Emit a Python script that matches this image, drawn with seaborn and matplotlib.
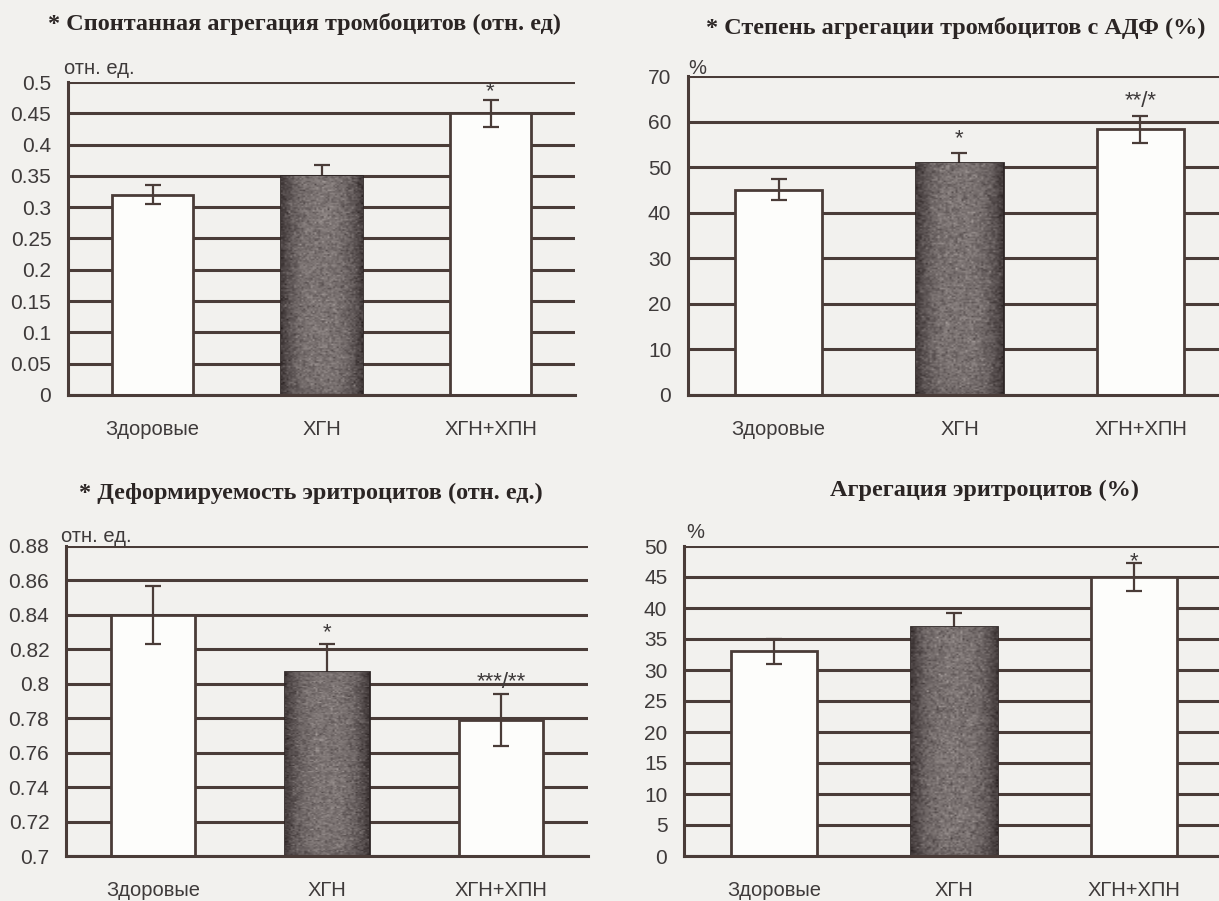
import numpy as np
import matplotlib
matplotlib.use("Agg")
import matplotlib.pyplot as plt
from matplotlib.colors import LinearSegmentedColormap
import pandas as pd
import seaborn as sns

# ---- data ---------------------------------------------------------------
groups = ["Здоровые", "ХГН", "ХГН+ХПН"]

spont_vals = [0.32, 0.35, 0.45]
spont_err = [0.015, 0.017, 0.022]
spont_marks = ["", "", "*"]
spont_ticks = [0, 0.05, 0.1, 0.15, 0.2, 0.25, 0.3, 0.35, 0.4, 0.45, 0.5]

adp_vals = [45, 51, 58.3]
adp_err = [2.3, 2.2, 3.0]
adp_marks = ["", "*", "**/*"]
adp_ticks = [0, 10, 20, 30, 40, 50, 60, 70]

deform_vals = [0.84, 0.807, 0.779]
deform_err = [0.017, 0.016, 0.015]
deform_marks = ["", "*", "***/**"]
deform_ticks = [0.7, 0.72, 0.74, 0.76, 0.78, 0.8, 0.82, 0.84, 0.86, 0.88]

eagg_vals = [33, 37, 45]
eagg_err = [2.0, 2.2, 2.3]
eagg_marks = ["", "", "*"]
eagg_ticks = [0, 5, 10, 15, 20, 25, 30, 35, 40, 45, 50]

titles = [
    "* Спонтанная агрегация тромбоцитов (отн. ед)",
    "* Степень агрегации тромбоцитов с АДФ (%)",
    "* Деформируемость эритроцитов (отн. ед.)",
    "Агрегация эритроцитов (%)",
]
units = ["отн. ед.", "%", "отн. ед.", "%"]

# ---- style --------------------------------------------------------------
sns.set_style("white")
plt.rcParams["font.family"] = ["Liberation Sans", "DejaVu Sans"]

W, H = 1219, 901
paper = "#f2f1ee"
ink = "#4a3c38"
label_col = "#3e3a3a"
dark_group = "ХГН"
bar_colors = {"Здоровые": "#fdfdfb", "ХГН": "#6d6565", "ХГН+ХПН": "#fdfdfb"}
grain_cmap = LinearSegmentedColormap.from_list("grain", ["#241c1c", "#5a5252", "#9c9492", "#d4ccc8"])
rng = np.random.default_rng(11)

fig = plt.figure(figsize=(W / 100, H / 100), dpi=100, facecolor=paper)


def px_axes(left, top, right, bottom):
    return fig.add_axes([left / W, 1 - bottom / H, (right - left) / W, (bottom - top) / H])


def grain(ax, patch):
    """Fill the visible part of a bar with a grainy dark texture, darker toward its edges."""
    x0, w = patch.get_x(), patch.get_width()
    lo = max(patch.get_y(), ax.get_ylim()[0])
    hi = patch.get_y() + patch.get_height()
    nx, ny = 44, 150
    xs = np.linspace(-1, 1, nx)
    ys = np.linspace(0, 1, ny)
    across = 0.50 - 0.30 * np.abs(xs) ** 3
    along = 1 - 0.15 * np.exp(-ys * 25)
    img = across[None, :] * along[:, None] + rng.normal(0, 0.07, (ny, nx))
    im = ax.imshow(np.clip(img, 0, 1), extent=[x0, x0 + w, lo, hi], origin="lower",
                   cmap=grain_cmap, vmin=0, vmax=1, aspect="auto",
                   interpolation="bilinear", zorder=patch.get_zorder() + 0.01)
    im.set_clip_path(patch)


def panel(ax, vals, errs, marks, ticks, mark_offset):
    df = pd.DataFrame({"group": groups, "value": vals})
    sns.barplot(data=df, x="group", y="value", hue="group", palette=bar_colors,
                saturation=1, width=0.48, edgecolor=ink, linewidth=2.0,
                legend=False, ax=ax)
    ax.set_xlim(-0.5, 2.5)
    ax.set_ylim(ticks[0], ticks[-1])
    for patch, g in zip(ax.patches, groups):
        patch.set_zorder(2)
        if g == dark_group:
            patch.set_edgecolor("#2e2626")
            grain(ax, patch)
    for i, (g, v, e) in enumerate(zip(groups, vals, errs)):
        # on the dark bar the whisker sits underneath, so only its upper part shows
        z = 1.9 if g == dark_group else 4
        ax.errorbar([i], [v], yerr=[e], fmt="none", ecolor=ink,
                    elinewidth=1.6, capsize=6, capthick=1.6, zorder=z)
    for i, (v, e, m) in enumerate(zip(vals, errs, marks)):
        if m:
            ax.annotate(m, (i, v + e), xytext=(0, mark_offset), textcoords="offset points",
                        ha="center", va="bottom", fontsize=16, color=label_col, zorder=5)

    ax.set_facecolor(paper)
    ax.set_xlim(-0.5, 2.5)
    ax.set_ylim(ticks[0], ticks[-1])
    ax.set_yticks(ticks)
    ax.set_yticklabels([f"{t:g}" for t in ticks])
    ax.set_xticks([-0.5, 0.5, 1.5, 2.5])
    ax.set_xticklabels([])
    ax.set_xticks([0, 1, 2], minor=True)
    ax.set_xticklabels(groups, minor=True)
    ax.tick_params(axis="x", which="major", direction="out", length=6, width=2, color=ink)
    ax.tick_params(axis="x", which="minor", length=0, pad=18, labelsize=14.5, labelcolor=label_col)
    ax.tick_params(axis="y", direction="out", length=9, width=2, color=ink, pad=3,
                   labelsize=15, labelcolor=label_col)
    ax.set_xlabel("")
    ax.set_ylabel("")
    ax.set_axisbelow(True)
    ax.yaxis.grid(True, color=ink, linewidth=2.2)
    ax.xaxis.grid(False)
    for side in ("top", "right"):
        ax.spines[side].set_visible(False)
    for side in ("left", "bottom"):
        ax.spines[side].set_color(ink)
        ax.spines[side].set_linewidth(2.2)


ax_tl = px_axes(68, 82, 575, 395)
ax_tr = px_axes(688, 76, 1231, 395)
ax_bl = px_axes(66, 546, 588, 856)
ax_br = px_axes(684, 546, 1224, 856)

panel(ax_tl, spont_vals, spont_err, spont_marks, spont_ticks, -2)
panel(ax_tr, adp_vals, adp_err, adp_marks, adp_ticks, 2.5)
panel(ax_bl, deform_vals, deform_err, deform_marks, deform_ticks, 1)
panel(ax_br, eagg_vals, eagg_err, eagg_marks, eagg_ticks, -6.5)

# panel headings
title_pos = [(304, 24), (956, 28), (311, 493), (984, 490)]
for text, (x, y) in zip(titles, title_pos):
    fig.text(x / W, 1 - y / H, text, ha="center", va="center", fontsize=17.5,
             fontweight="bold", family=["Liberation Serif", "DejaVu Serif"], color="#2b2524")

# unit captions above the value axes
unit_pos = [(64, 68), (688, 68), (61, 537), (686, 532)]
for text, (x, y) in zip(units, unit_pos):
    fig.text(x / W, 1 - y / H, text, ha="left", va="center", fontsize=14.5, color=label_col)

fig.savefig("out.png", dpi=100, facecolor=paper)
